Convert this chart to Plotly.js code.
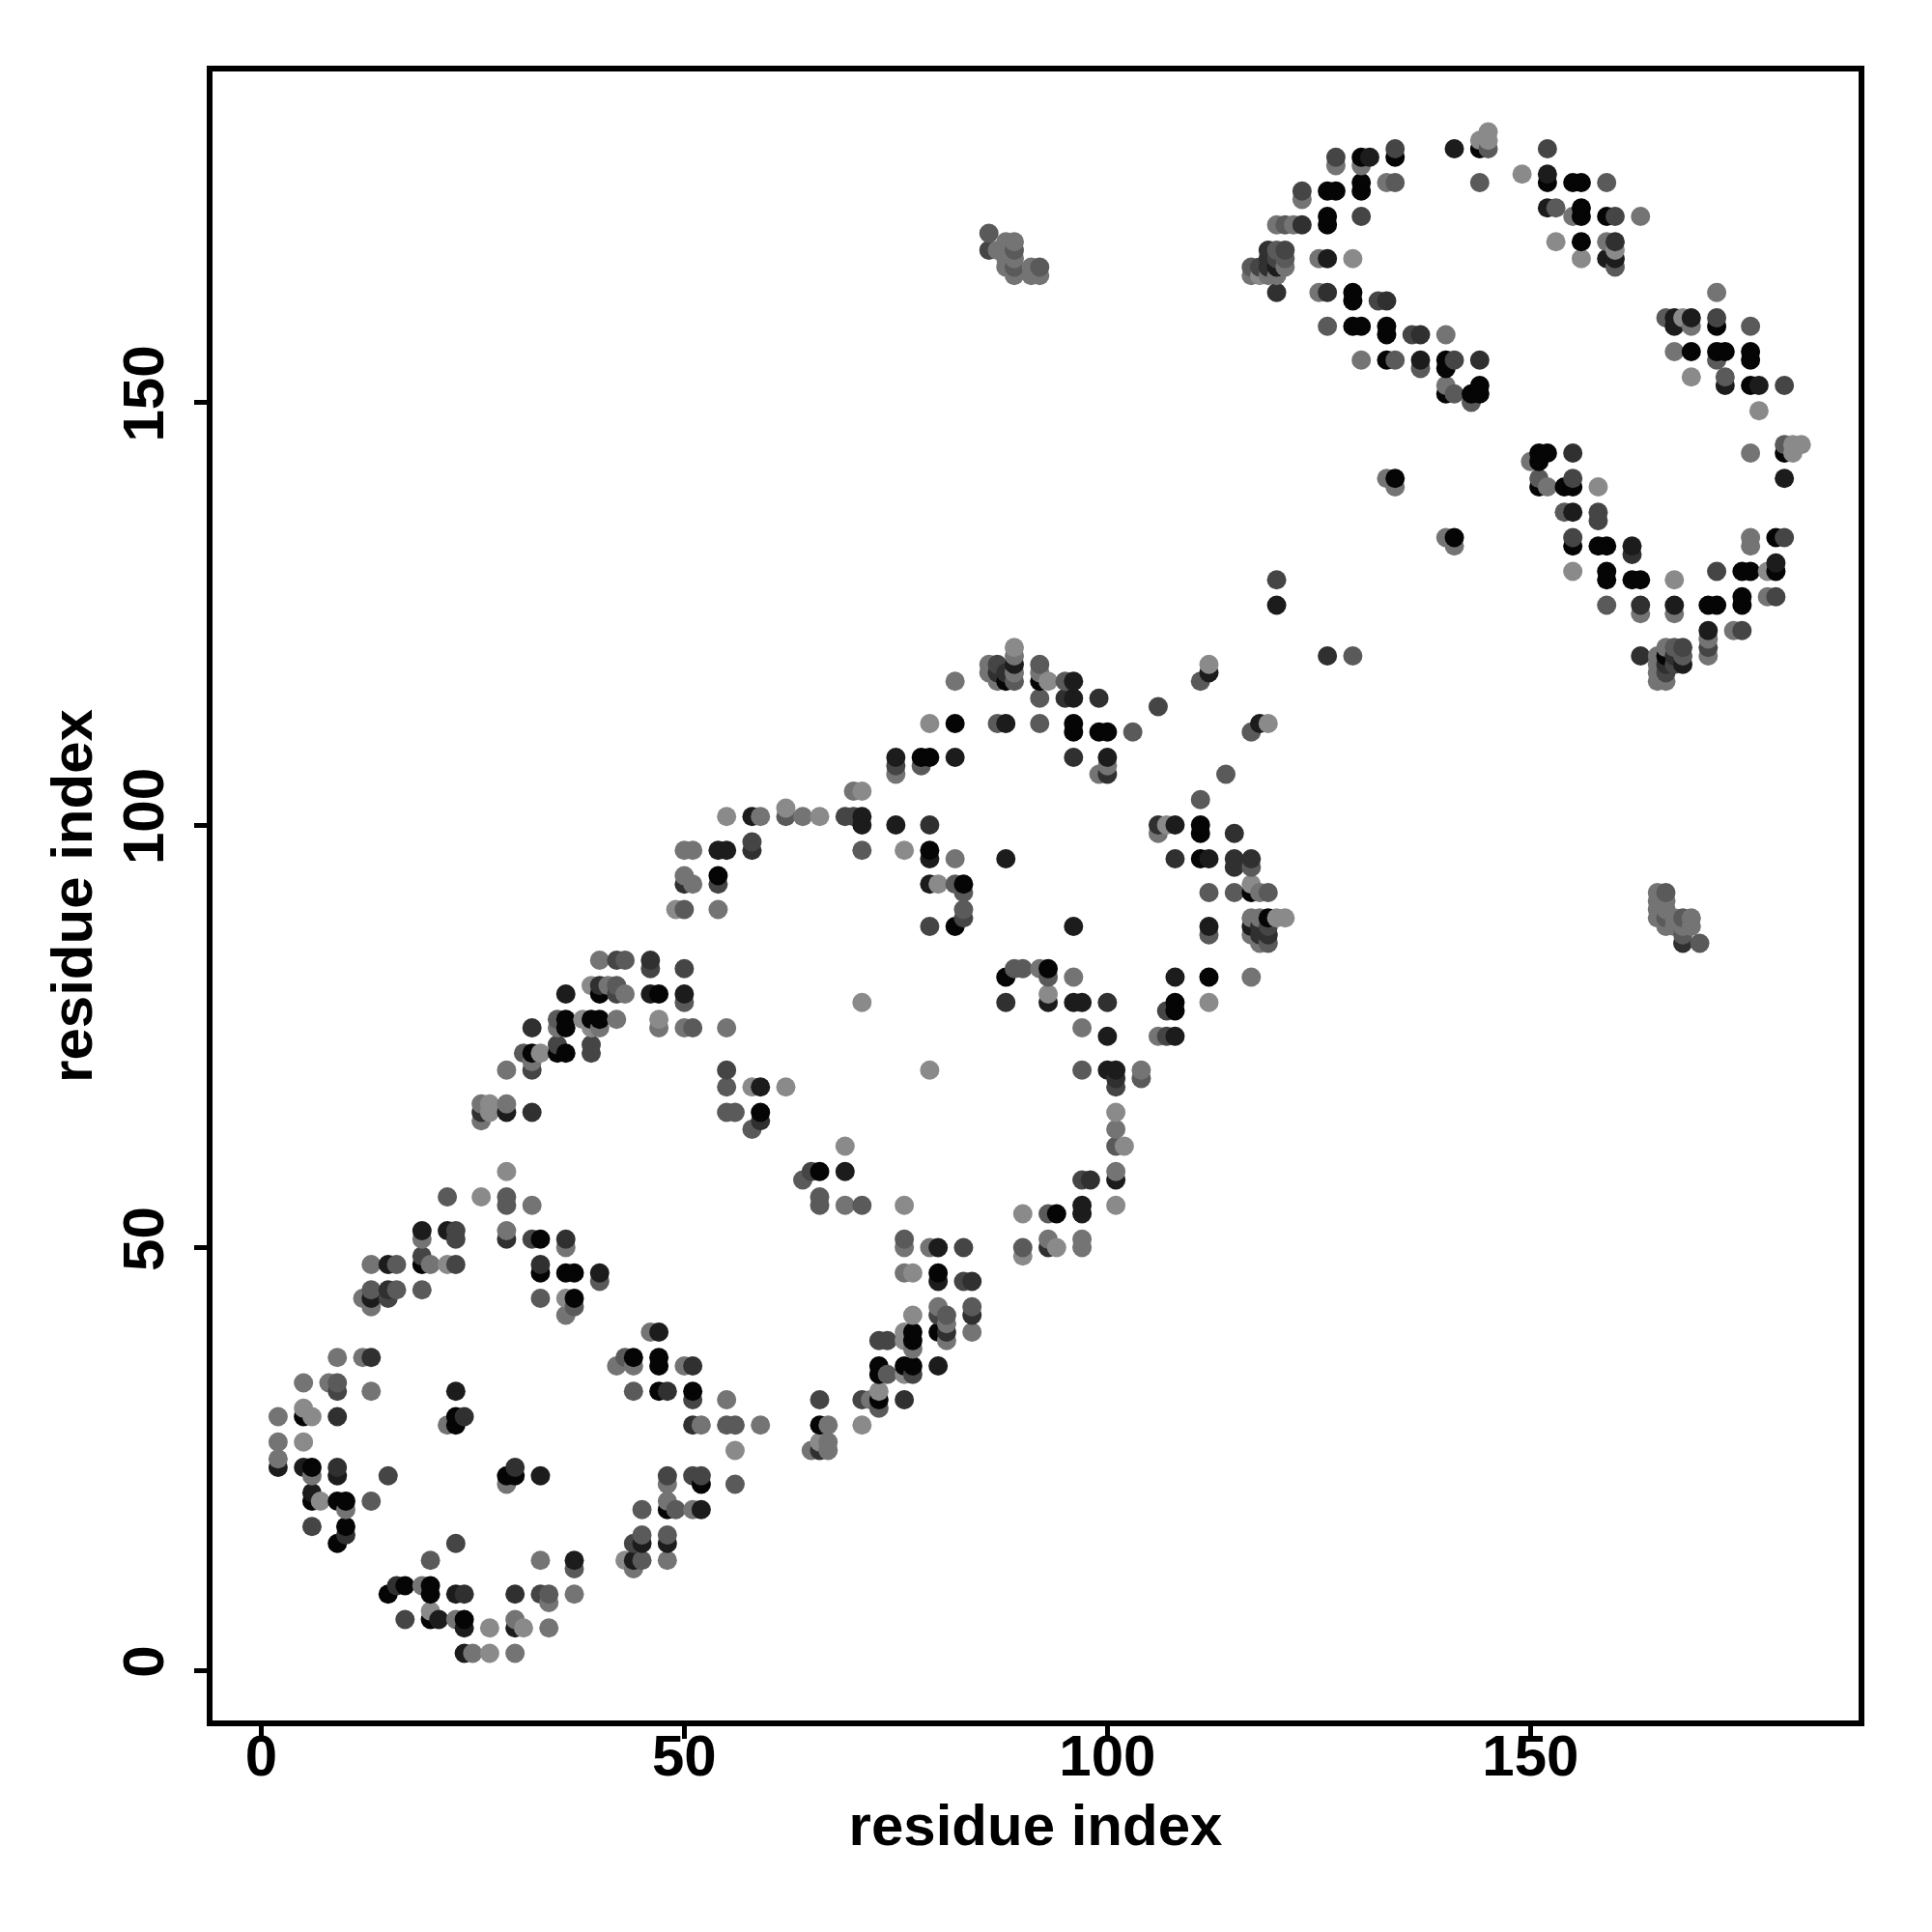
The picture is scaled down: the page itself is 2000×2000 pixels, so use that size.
<!DOCTYPE html>
<html>
<head>
<meta charset="utf-8">
<script src="https://cdn.plot.ly/plotly-3.0.1.min.js"></script>
<style>html,body{margin:0;padding:0;background:#fff}</style>
</head>
<body>
<div id="chart" style="width:2000px;height:2000px"></div>
<script>
const tickValues = [0, 50, 100, 150];
const axisLabel = "residue index";
const shadeColors = ["#050505", "#1c1c1c", "#303030", "#454545", "#5a5a5a", "#747474", "#8a8a8a"];
const contactsShade0 = [[20,6],[24,6],[15,9],[20,9],[17,10],[20,10],[10,17],[9,15],[48,19],[6,20],[9,20],[10,20],[6,24],[5,30],[23,30],[23,29],[29,23],[30,23],[44,37],[47,37],[47,36],[47,33],
[94,54],[80,47],[77,40],[80,40],[77,39],[73,36],[76,36],[77,36],[73,35],[51,33],[73,32],[66,29],[52,22],
[33,51],[19,48],[33,47],[36,47],[37,47],[37,44],
[32,73],[35,73],[36,73],[36,76],[36,77],[39,77],[40,77],[40,80],[47,80],[54,94],[59,66],[66,59],
[88,117],[92,117],[82,112],[96,112],[96,111],[99,111],[100,111],[78,108],[79,108],[111,100],[111,99],[79,97],[111,96],[83,93],[117,92],[119,89],[82,88],[93,83],[88,82],[112,82],[108,79],[108,78],
[144,180],[130,179],[134,179],[130,176],[152,176],[155,176],[156,176],[126,175],[127,175],[130,175],[156,173],[126,172],[156,172],[159,172],[126,171],[156,169],[129,163],[129,162],[129,159],[130,159],[133,159],[133,158],[133,155],[140,155],[140,154],[144,152],[140,151],[143,151],[144,151],
[172,159],[169,156],[172,156],[173,156],[176,156],[176,155],[176,152],
[151,144],[152,144],[180,144],[151,143],[151,140],[154,140],[155,140],[179,134],[155,133],[158,133],[159,133],[159,130],[175,130],[176,130],[179,130],[159,129],[162,129],[163,129],[175,127],[171,126],[172,126],[175,126],[166,120],[134,141],[141,134]];
const contactsShade1 = [[24,2],[24,5],[30,5],[21,6],[23,9],[37,13],[44,13],[45,15],[48,15],[6,21],[9,23],[33,23],[2,24],[5,24],[23,33],[47,40],
[80,50],[52,19],[80,46],[80,36],[29,66],[19,52],[22,52],[15,48],[40,47],[13,44],
[36,80],[46,80],[50,80],[54,97],[55,97],[58,101],[71,101],[71,100],[75,100],[59,69],
[100,75],[100,71],[101,71],[69,59],[97,55],[97,54],[101,58],
[89,119],[112,118],[96,117],[96,115],[88,112],[118,112],[75,108],[82,108],[100,108],[108,100],[79,96],[88,96],[112,96],[79,93],[96,88],[112,88],[117,88],[108,82],[93,79],[96,79],[97,79],[108,75],
[141,180],[131,179],[152,177],[152,173],[120,166],[126,167],[137,155],[159,167],[160,167],[167,160],[169,160],[167,159],[173,152],[177,152],
[180,141],[155,137],[162,133],[179,131],[167,126],[171,123],[168,119],[120,126]];
const contactsShade2 = [[30,9],[24,9],[16,10],[10,16],[9,24],[24,30],[30,24],[9,30],[13,37],[48,33],[51,36],[93,50],[84,46],[81,40],[84,42],[76,32],[51,29],[66,26],[26,66],[32,66],[29,51],[36,51],[33,48],[15,45],[32,76],[40,81],[46,84],[50,93],[58,97],[59,65],[101,70],[98,58],[87,118],[88,118],[95,115],[99,115],[96,108],[100,106],[79,100],[106,100],[115,99],[108,96],[115,96],[117,96],[115,95],[118,88],[118,87],[119,87],[88,79],[100,79],[160,169],[123,171],[119,168],[119,167],[119,166],[120,163],[126,163],[133,162],[137,158],[144,155],[155,144],[162,132],[163,126],[163,120],[167,120],[166,119],[126,120],[168,86]];
const contactsShade3 = [[17,6],[33,9],[23,15],[44,15],[6,17],[15,23],[48,23],[9,33],[83,50],[83,46],[80,42],[73,39],[74,39],[77,35],[51,32],[66,32],[71,32],[51,23],[52,23],[32,71],[23,52],[23,51],[32,51],[19,49],[23,48],[15,44],[39,73],[35,74],[39,74],[42,80],[46,83],[50,83],[42,84],[54,93],[58,98],[69,101],[70,101],[55,71],[65,59],[101,69],[97,58],[87,119],[106,114],[75,107],[83,89],[79,88],[119,88],[107,78],[107,75],[134,180],[152,180],[127,179],[123,175],[130,172],[160,172],[120,167],[121,168],[118,166],[132,162],[136,158],[141,155],[172,160],[180,152],[155,141],[158,137],[158,136],[155,134],[180,134],[172,130],[179,127],[175,123],[168,121],[171,121],[167,119],[166,118],[120,129],[86,168]];
const contactsShade4 = [[20,13],[34,9],[37,12],[45,13],[45,16],[48,16],[45,19],[49,19],[13,20],[9,34],[43,37],[44,33],[66,56],[66,55],[71,55],[93,54],[76,51],[90,50],[84,43],[81,42],[74,35],[73,31],[55,29],[56,29],[56,22],[22,56],[29,56],[29,55],[16,48],[40,46],[13,45],[16,45],[19,45],[33,44],[37,43],[31,73],[51,76],[35,77],[50,79],[42,81],[43,84],[50,90],[62,101],[71,97],[55,69],[55,66],[56,66],[58,64],[97,71],[104,70],[101,62],[64,58],[92,119],[89,117],[95,117],[111,117],[92,115],[87,112],[92,112],[103,111],[117,111],[78,107],[114,106],[111,103],[117,95],[82,93],[83,92],[112,92],[115,92],[119,92],[83,90],[112,87],[119,86],[89,83],[90,83],[93,82],[145,180],[134,176],[144,176],[159,176],[153,173],[121,171],[120,168],[121,167],[117,166],[126,159],[134,155],[137,154],[141,151],[143,150],[160,166],[166,160],[176,159],[172,155],[173,153],[180,145],[151,141],[154,137],[159,126],[167,121],[168,120],[129,120],
[86,170],[89,168],[89,166],[92,166],[166,92],[166,89],[168,89],[168,87],[170,86]];
const contactsShade5 = [[25,2],[30,2],[34,5],[23,6],[30,6],[34,8],[37,9],[19,10],[33,13],[48,13],[44,12],[10,19],[48,20],[6,23],[2,25],[2,27],[2,30],[13,33],[5,34],[8,34],[9,37],[12,37],[22,29],[29,22],[46,40],[42,36],[44,36],[50,36],[48,22],
[69,55],[76,50],[79,50],[93,51],[76,47],[80,43],[81,41],[84,40],[81,39],[77,38],[55,32],[72,32],[52,29],[59,29],[67,29],[67,27],[65,26],[67,26],[51,19],
[29,71],[32,72],[26,67],[29,67],[26,65],[29,52],[32,55],[19,51],[36,50],[13,48],[20,48],[12,44],[13,43],[36,42],
[35,76],[40,76],[47,76],[50,76],[55,76],[42,77],[43,80],[41,81],[40,84],[54,90],[51,93],[50,94],[50,97],[51,97],[59,101],[64,101],[70,104],
[97,76],[106,75],[104,71],[101,64],[101,59],[97,51],[97,50],
[89,120],[86,119],[86,118],[89,118],[92,118],[82,117],[87,117],[100,107],[75,106],[99,106],[106,99],[82,96],[118,92],[117,89],[118,89],[117,87],[118,86],[92,83],[96,82],[117,82],
[127,178],[130,178],[133,176],[123,174],[155,172],[163,172],[120,171],[122,171],[159,169],[125,167],[121,166],[117,165],[119,165],[120,165],[125,163],[140,158],[130,155],[140,152],
[172,163],[169,159],[167,156],
[176,144],[150,143],[152,140],[176,134],[176,133],[178,127],[163,125],[167,125],[174,123],[171,122],[166,121],[165,120],[171,120],[165,119],[165,118],[165,117],[166,117],
[133,141],[134,140],[140,134],[141,133],
[87,168],[88,169],[89,169],[88,168],[88,167],[89,167],[88,166],[89,165],[91,165],[91,166],[92,165],
[165,92],[165,91],[166,91],[165,90],[166,90],[165,89],[167,89],[169,89],[166,88],[167,88],[168,88],[169,88]];
const contactsShade6 = [[27,2],[27,5],[31,5],[20,7],[43,13],[7,20],[5,27],[6,30],[5,31],[76,55],[90,54],[90,49],[94,50],[77,47],[77,42],[76,40],[76,39],[76,35],[73,33],[71,29],[66,27],[56,26],[27,67],[27,66],[29,59],[26,56],[22,48],[36,44],[33,73],[39,76],[38,77],[47,77],[71,79],[39,81],[49,90],[55,101],[66,101],[62,102],[71,104],[58,69],[62,69],[69,62],[79,71],[101,66],[102,62],[101,55],[89,121],[112,119],[93,117],[79,112],[119,112],[107,100],[76,97],[80,93],[117,93],[120,89],[121,89],[93,80],[112,79],[145,182],[144,181],[145,181],[149,177],[153,169],[129,167],[118,165],[156,167],[160,168],[168,160],[169,153],[177,149],[181,145],[182,145],[181,144],[158,140],[155,130],[178,130],[167,129]];

const groups = [contactsShade0, contactsShade1, contactsShade2, contactsShade3, contactsShade4, contactsShade5, contactsShade6];
const rows = [];
groups.forEach((list, s) => list.forEach(p => rows.push({x: p[0], y: p[1], c: shadeColors[s]})));
// the original draws in column order, then row order
rows.sort((a, b) => a.x - b.x || a.y - b.y);

const titleFont = {family: "Liberation Sans, Arial, sans-serif", size: 60, color: "#000", weight: 700};
const tickFont = {family: "Liberation Sans, Arial, sans-serif", size: 60, color: "#000", weight: 700};
const baseAxis = {
  tickmode: "array", tickvals: tickValues, ticktext: tickValues.map(String),
  ticks: "outside", ticklen: 13, tickwidth: 5, tickcolor: "#000",
  showline: true, linecolor: "#000", linewidth: 6, mirror: true,
  showgrid: false, zeroline: false, tickfont: tickFont, automargin: false
};
Plotly.newPlot("chart", [{
  type: "scatter", mode: "markers",
  x: rows.map(r => r.x), y: rows.map(r => r.y),
  marker: {size: 20, color: rows.map(r => r.c), line: {width: 0}},
  hoverinfo: "x+y"
}], {
  width: 2000, height: 2000,
  margin: {l: 220, r: 76, t: 74, b: 219, pad: 0},
  paper_bgcolor: "#fff", plot_bgcolor: "#fff", showlegend: false,
  xaxis: Object.assign({}, baseAxis, {range: [-5.75, 188.77], ticklabelstandoff: -34, title: {text: axisLabel, font: titleFont, standoff: 20}}),
  yaxis: Object.assign({}, baseAxis, {range: [-5.94, 189.14], tickangle: -90, ticklabelstandoff: 8, title: {text: axisLabel, font: titleFont, standoff: 2}})
}, {displayModeBar: false});
</script>
</body>
</html>
